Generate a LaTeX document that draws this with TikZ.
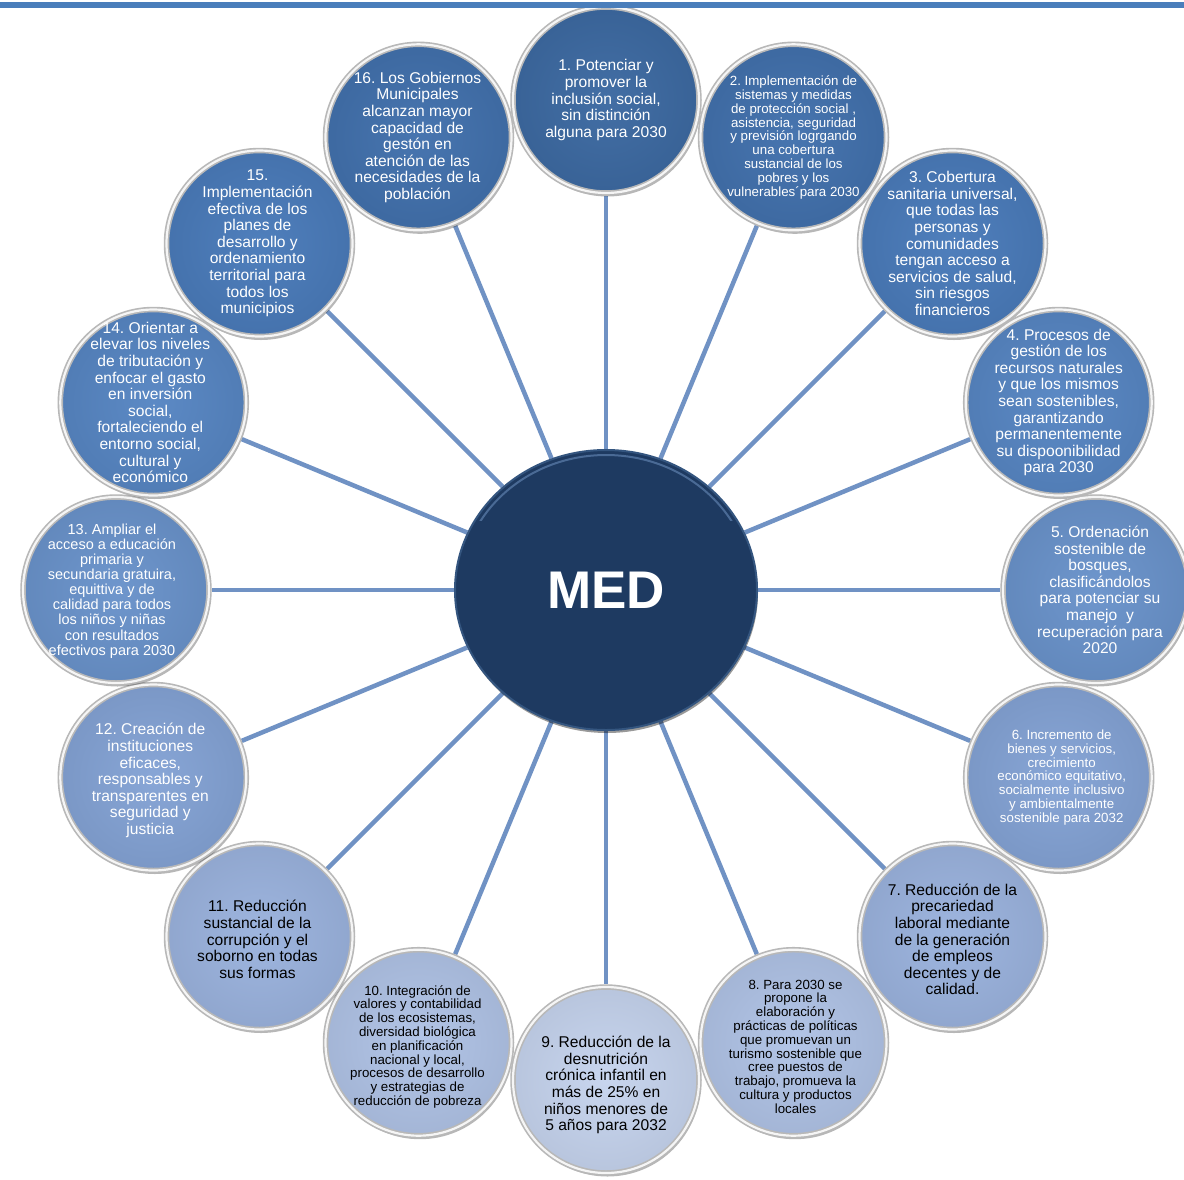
\documentclass[tikz,border=0pt]{standalone}
\usepackage{fontspec}
\setmainfont{Liberation Sans}
\usetikzlibrary{shapes.geometric,shadows}
\definecolor{colA}{HTML}{3D6AA2}
\definecolor{colB}{HTML}{4271AD}
\definecolor{colC}{HTML}{4A7BBA}
\definecolor{colD}{HTML}{5786C3}
\definecolor{colE}{HTML}{6A93CB}
\definecolor{colF}{HTML}{84A3D5}
\definecolor{colG}{HTML}{9BB3DE}
\definecolor{colH}{HTML}{B0C3E6}
\definecolor{colI}{HTML}{C6D4EE}
\definecolor{navy}{HTML}{1E3A61}
\definecolor{navyedge}{HTML}{34557F}
\definecolor{navyhl}{HTML}{5576A3}
\definecolor{connc}{HTML}{7092C4}
\definecolor{topline}{HTML}{4A7EBB}
\definecolor{rimgray}{HTML}{B8B8B8}
\pgfdeclarelayer{bg}
\pgfsetlayers{bg,main}
\tikzset{
  outerc/.style={circle, minimum size=186pt, inner sep=0pt, draw=rimgray, line width=5.5pt,
    inner color=#1!97!white, outer color=#1!93!black,
    drop shadow={shadow xshift=1.5pt, shadow yshift=-3.5pt, opacity=0.35, fill=black!80},
    postaction={draw=white!92!gray, line width=2.2pt}},
  txtbig/.style={align=center, inner sep=0pt, font=\fontsize{15.6}{16.6}\selectfont},
  txtmid/.style={align=center, inner sep=0pt, font=\fontsize{14.5}{15.1}\selectfont},
  txtsmall/.style={align=center, inner sep=0pt, font=\fontsize{13.3}{13.8}\selectfont},
  wtext/.style={text=white},
  ktext/.style={text=black},
  conn/.style={draw=connc, line width=4.5pt},
  medc/.style={ellipse, minimum width=302pt, minimum height=280pt, inner sep=0pt,
    fill=navy, draw=navyedge, line width=2pt,
    drop shadow={shadow xshift=1pt, shadow yshift=-3pt, opacity=0.4, fill=black},
    text=white, font=\fontsize{53}{60}\selectfont\bfseries},
  medhl/.style={draw=navyhl, line width=2pt, opacity=0.8}
}
\frenchspacing
\begin{document}
\begin{tikzpicture}[x=1pt,y=-1pt]
\useasboundingbox (0,0) rectangle (1184,1179);

\node[medc] (med) at (606,590) {MED};
\begin{scope}
\clip (440,430) rectangle (772,520);
\draw[medhl] (med.center) ellipse [x radius=146, y radius=135];
\end{scope}

\node[outerc=colA] (c1) at (606,100) {};
\node[outerc=colB] (c2) at (793.5,137.3) {};
\node[outerc=colC] (c3) at (952.5,243.5) {};
\node[outerc=colD] (c4) at (1058.7,402.5) {};
\node[outerc=colE] (c5) at (1096,590) {};
\node[outerc=colF] (c6) at (1058.7,777.5) {};
\node[outerc=colG] (c7) at (952.5,936.5) {};
\node[outerc=colH] (c8) at (793.5,1042.7) {};
\node[outerc=colI] (c9) at (606,1080) {};
\node[outerc=colH] (c10) at (418.5,1042.7) {};
\node[outerc=colG] (c11) at (259.5,936.5) {};
\node[outerc=colF] (c12) at (153.3,777.5) {};
\node[outerc=colE] (c13) at (116,590) {};
\node[outerc=colD] (c14) at (153.3,402.5) {};
\node[outerc=colC] (c15) at (259.5,243.5) {};
\node[outerc=colB] (c16) at (418.5,137.3) {};

\begin{pgfonlayer}{bg}
\fill[white] (0,0) rectangle (1184,1179);
\foreach \i in {1,...,16} \draw[conn] (med) -- (c\i);
\end{pgfonlayer}

\node[txtbig,wtext] (t1) at (c1) {1. Potenciar y\\promover la\\inclusión social,\\sin distinción\\alguna para 2030};
\node[txtsmall,wtext] (t2) at (c2) {2. Implementación de\\sistemas y medidas\\de protección social ,\\asistencia, seguridad\\y previsión logrgando\\una cobertura\\sustancial de los\\pobres y los\\vulnerables´para 2030};
\node[txtbig,wtext] (t3) at (c3) {3. Cobertura\\sanitaria universal,\\que todas las\\personas y\\comunidades\\tengan acceso a\\servicios de salud,\\sin riesgos\\financieros};
\node[txtbig,wtext] (t4) at (c4) {4. Procesos de\\gestión de los\\recursos naturales\\y que los mismos\\sean sostenibles,\\garantizando\\permanentemente\\su dispoonibilidad\\para 2030};
\node[txtbig,wtext] (t5) at ([xshift=4pt]c5) {5. Ordenación\\sostenible de\\bosques,\\clasificándolos\\para potenciar su\\manejo\ \ y\\recuperación para\\2020};
\node[txtsmall,wtext] (t6) at ([xshift=3pt]c6) {6. Incremento de\\bienes y servicios,\\crecimiento\\económico equitativo,\\socialmente inclusivo\\y ambientalmente\\sostenible para 2032};
\node[txtbig,ktext] (t7) at ([yshift=-3pt]c7) {7. Reducción de la\\precariedad\\laboral mediante\\de la generación\\de empleos\\decentes y de\\calidad.};
\node[txtsmall,ktext] (t8) at ([xshift=2pt,yshift=-4pt]c8) {8. Para 2030 se\\propone la\\elaboración y\\prácticas de políticas\\que promuevan un\\turismo sostenible que\\cree puestos de\\trabajo, promueva la\\cultura y productos\\locales};
\node[txtbig,ktext] (t9) at ([yshift=-5pt]c9) {9. Reducción de la\\desnutrición\\crónica infantil en\\más de 25\% en\\niños menores de\\5 años para 2032};
\node[txtsmall,ktext] (t10) at ([xshift=-1pt,yshift=-4pt]c10) {10. Integración de\\valores y contabilidad\\de los ecosistemas,\\diversidad biológica\\en planificación\\nacional y local,\\procesos de desarrollo\\y estrategias de\\reducción de pobreza};
\node[txtbig,ktext] (t11) at ([xshift=-2pt,yshift=-3pt]c11) {11. Reducción\\sustancial de la\\corrupción y el\\soborno en todas\\sus formas};
\node[txtbig,wtext] (t12) at ([xshift=-3pt,yshift=-3pt]c12) {12. Creación de\\instituciones\\eficaces,\\responsables y\\transparentes en\\seguridad y\\justicia};
\node[txtmid,wtext] (t13) at ([xshift=-4pt,yshift=-1pt]c13) {13. Ampliar el\\acceso a educación\\primaria y\\secundaria gratuira,\\equittiva y de\\calidad para todos\\los niños y niñas\\con resultados\\efectivos para 2030};
\node[txtbig,wtext] (t14) at ([xshift=-3pt]c14) {14. Orientar a\\elevar los niveles\\de tributación y\\enfocar el gasto\\en inversión\\social,\\fortaleciendo el\\entorno social,\\cultural y\\económico};
\node[txtbig,wtext] (t15) at ([xshift=-2pt]c15) {15.\\Implementación\\efectiva de los\\planes de\\desarrollo y\\ordenamiento\\territorial para\\todos los\\municipios};
\node[txtbig,wtext] (t16) at ([xshift=-1pt]c16) {16. Los Gobiernos\\Municipales\\alcanzan mayor\\capacidad de\\gestón en\\atención de las\\necesidades de la\\población};

\fill[topline] (0,2) rectangle (1184,7.5);
\end{tikzpicture}
\end{document}
